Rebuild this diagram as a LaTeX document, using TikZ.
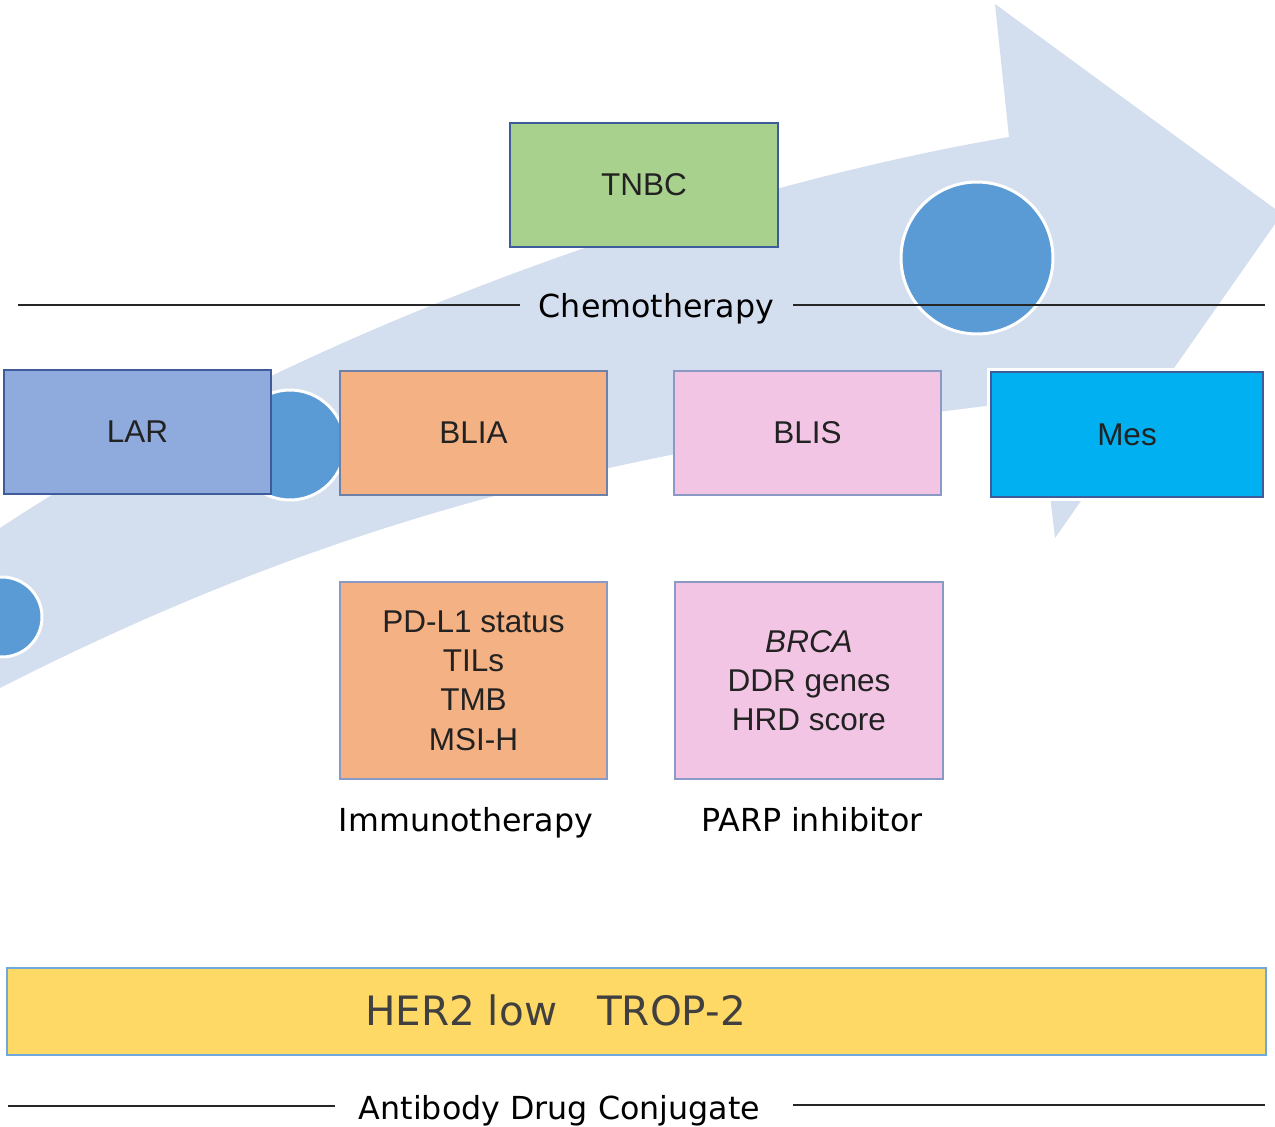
\documentclass[tikz,border=0pt]{standalone}
\usepackage{fontspec}
\setmainfont{Liberation Sans}
\newfontfamily\labfont{DejaVu Sans}
\definecolor{arrowc}{HTML}{D3DEEF}
\definecolor{circc}{HTML}{5B9BD5}
\definecolor{txtc}{HTML}{222222}
\definecolor{tnbcf}{HTML}{A9D18E}
\definecolor{larf}{HTML}{8FAADC}
\definecolor{bliaf}{HTML}{F4B183}
\definecolor{blisf}{HTML}{F2C5E5}
\definecolor{mesf}{HTML}{00B0F0}
\definecolor{herf}{HTML}{FFD966}
\definecolor{darkb}{HTML}{3E5C99}
\definecolor{midb}{HTML}{6E80A8}
\definecolor{lightb}{HTML}{8A9AC4}
\definecolor{herb}{HTML}{6FA8DC}
\begin{document}
\begin{tikzpicture}[x=1pt,y=-1pt,
  box/.style={rectangle, line width=1.8pt, inner sep=0pt, text=txtc, align=center,
    font=\fontsize{31.5}{39.3}\selectfont},
  lab/.style={anchor=base, inner sep=0pt, text=black, font=\labfont\fontsize{31.7}{36}\selectfont},
  rule/.style={line width=1.3pt, draw=black!85},
  dot/.style={circle, fill=circc, draw=white, line width=3pt, inner sep=0pt}]
\useasboundingbox (0,0) rectangle (1275,1127);
\clip (0,0) rectangle (1275,1127);
% big curved arrow
\fill[arrowc] (-30,548) -- (0,528) .. controls (300,330) and (700,190) .. (1009,137)
  -- (995,4) -- (1282,214) -- (1055,538) -- (1039,400)
  .. controls (620,446) and (330,520) .. (0,688) -- (-30,703) -- cycle;
% circles
\node[dot, minimum size=152pt] (c1) at (977,258) {};
\node[dot, minimum size=110pt] (c2) at (290,445) {};
\node[dot, minimum size=80pt] (c3) at (2,617) {};
% chemotherapy label and rules
\node[lab] (chemo) at (656.5,317) {Chemotherapy};
\coordinate (ch1) at (18,305);
\coordinate (ch2) at (520,305);
\coordinate (ch3) at (793,305);
\coordinate (ch4) at (1265,305);
\draw[rule] (ch1) -- (ch2);
\draw[rule] (ch3) -- (ch4);
% boxes
\node[box, fill=tnbcf, draw=darkb, minimum width=268pt, minimum height=124pt] (tnbc) at (644,185) {TNBC};
\node[box, fill=larf, draw=darkb, minimum width=267pt, minimum height=124pt] (lar) at (137.5,432) {LAR};
\node[box, fill=bliaf, draw=midb, minimum width=267pt, minimum height=124pt] (blia) at (473.5,433) {BLIA};
\node[box, fill=blisf, draw=lightb, minimum width=267pt, minimum height=124pt] (blis) at (807.5,433) {BLIS};
\fill[white] (987,368) rectangle (1267,501);
\node[box, fill=mesf, draw=darkb, minimum width=272pt, minimum height=125pt] (mes) at (1127,434.5) {Mes};
\node[box, fill=bliaf, draw=lightb, minimum width=267pt, minimum height=197pt] (pd) at (473.5,680.5)
  {PD-L1 status\\TILs\\TMB\\MSI-H};
\node[box, fill=blisf, draw=lightb, minimum width=268pt, minimum height=197pt] (brca) at (809,680.5)
  {\itshape BRCA\\DDR genes\\HRD score};
\node[lab] (immuno) at (466,831) {Immunotherapy};
\node[lab] (parp) at (812,831) {PARP inhibitor};
% ADC bar
\node[rectangle, fill=herf, draw=herb, line width=2pt, minimum width=1259pt, minimum height=87pt, inner sep=0pt] (her) at (636.5,1011.5) {};
\node[lab, text=black!75, font=\labfont\fontsize{40.5}{44}\selectfont] (hertxt) at (555.5,1025.5) {HER2 low\hspace{40pt}TROP-2};
\node[lab] (adc) at (559.5,1119) {Antibody Drug Conjugate};
\coordinate (ad1) at (8,1106);
\coordinate (ad2) at (335,1106);
\coordinate (ad3) at (793,1105);
\coordinate (ad4) at (1265,1105);
\draw[rule] (ad1) -- (ad2);
\draw[rule] (ad3) -- (ad4);
\end{tikzpicture}
\end{document}
